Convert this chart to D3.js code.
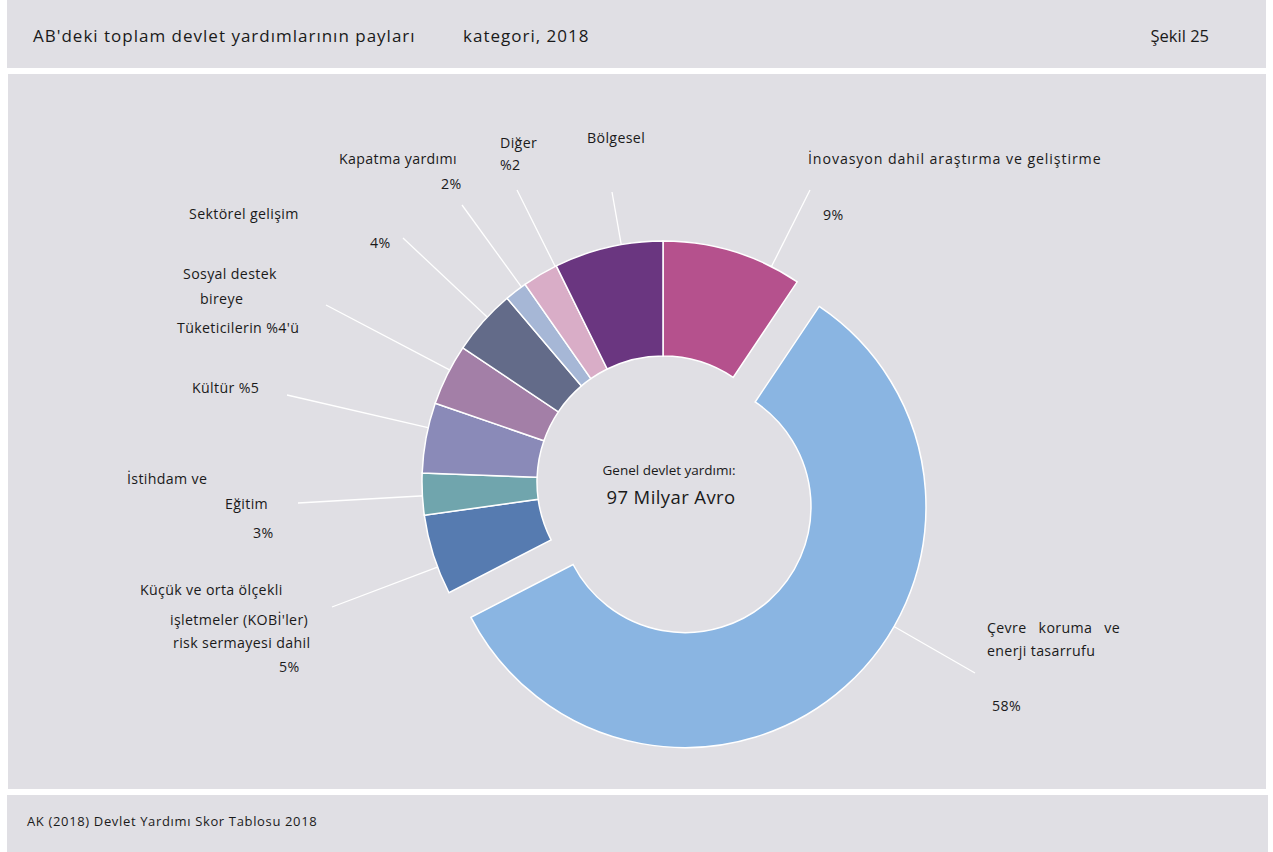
<!DOCTYPE html>
<html>
<head>
<meta charset="utf-8">
<script src="https://cdn.jsdelivr.net/npm/d3@7"></script>
<style>
  html, body { margin: 0; padding: 0; background: #ffffff; }
  svg { display: block; font-family: "Open Sans", Lato, sans-serif; }
</style>
</head>
<body>
<svg id="chart" width="1273" height="852"></svg>
<script>
// ---- data ----
const categories = [
  "İnovasyon dahil araştırma ve geliştirme",
  "Çevre koruma ve enerji tasarrufu",
  "Küçük ve orta ölçekli işletmeler (KOBİ'ler) risk sermayesi dahil",
  "İstihdam ve Eğitim",
  "Kültür",
  "Sosyal destek bireye Tüketicilerin",
  "Sektörel gelişim",
  "Kapatma yardımı",
  "Diğer",
  "Bölgesel"
];
const shares = [9.4, 58.0, 5.4, 2.8, 4.7, 4.1, 4.4, 1.5, 2.4, 7.3];
const colors = ["#b5518d", "#8ab5e2", "#567bb0", "#70a5ad", "#8a8ab8", "#a37fa7", "#636b89", "#a6b7d6", "#d9adc7", "#6a3680"];
// label text lines per category (as shown in the figure)
const labelLines = [
  ["İnovasyon dahil araştırma ve geliştirme", "", "9%"],
  ["Çevre   koruma   ve", "enerji tasarrufu", "", "58%"],
  ["Küçük ve orta ölçekli", "işletmeler (KOBİ'ler)", "risk sermayesi dahil", "5%"],
  ["İstihdam ve", "Eğitim", "3%"],
  ["Kültür %5"],
  ["Sosyal destek", "bireye", "Tüketicilerin %4'ü"],
  ["Sektörel gelişim", "", "4%"],
  ["Kapatma yardımı", "2%"],
  ["Diğer", "%2"],
  ["Bölgesel"]
];
const titleText = "AB'deki toplam devlet yardımlarının payları";
const subtitleText = "kategori, 2018";
const figureText = "Şekil 25";
const sourceText = "AK (2018) Devlet Yardımı Skor Tablosu 2018";
const centerLines = ["Genel devlet yardımı:", "97 Milyar Avro"];

// ---- layout (annotation placement) ----
const cx = 663, cy = 482, R = 241, r0 = 126, explode = 33;
const explodedIndex = 1;
// leader line end points and label anchors
const leaderEnds = [[810,190],[975,673],[332,607],[298,503],[287,395],[326,305],[403,238],[462,205],[517,190],[612,192]];
const labelPos = [
  {ys:[159,187,215], xs:[808,808,823], ls:[0.9,0.35,0.35]},
  {ys:[628,651,678,706], xs:[987,987,987,992]},
  {ys:[590,620,643,667], xs:[140,170,173,279]},
  {ys:[479,504,533], xs:[127,225,253]},
  {ys:[388], xs:[192]},
  {ys:[274,299,328], xs:[183,200,177]},
  {ys:[214,228,243], xs:[189,189,370]},
  {ys:[159,184], xs:[339,441]},
  {ys:[143,165], xs:[500,500]},
  {ys:[138], xs:[587]}
];

const svg = d3.select("#chart");
const bg = "#e0dfe4";
const ink = "#1a1a1a";

// panels
svg.append("rect").attr("x",7).attr("y",0).attr("width",1259).attr("height",68).attr("fill",bg);
svg.append("rect").attr("x",8).attr("y",74).attr("width",1258).attr("height",715).attr("fill",bg);
svg.append("rect").attr("x",7).attr("y",795).attr("width",1261).attr("height",57).attr("fill",bg);

// header texts
svg.append("text").attr("x",33).attr("y",42).attr("font-size",17).attr("letter-spacing",1.0).attr("fill",ink).text(titleText);
svg.append("text").attr("x",463).attr("y",42).attr("font-size",17).attr("letter-spacing",1.0).attr("fill",ink).text(subtitleText);
svg.append("text").attr("x",1209).attr("y",42).attr("font-size",16.5).attr("text-anchor","end").attr("fill",ink).text(figureText);
// footer
svg.append("text").attr("x",27).attr("y",826).attr("font-size",13).attr("letter-spacing",0.65).attr("fill",ink).text(sourceText);

// pie
const pie = d3.pie().sort(null).value(d => d)(shares);
const arc = d3.arc().innerRadius(r0).outerRadius(R);

const g = svg.append("g").attr("transform", `translate(${cx},${cy})`);

function offsetOf(i) {
  if (i !== explodedIndex) return [0,0];
  const m = (pie[i].startAngle + pie[i].endAngle) / 2;
  return [Math.sin(m) * explode, -Math.cos(m) * explode];
}

// leader lines (drawn under slices)
pie.forEach((p, i) => {
  const [ox, oy] = offsetOf(i);
  const ex = leaderEnds[i][0] - cx, ey = leaderEnds[i][1] - cy;
  const dx = ex - ox, dy = ey - oy;
  const len = Math.hypot(dx, dy);
  const sx = ox + dx / len * (R - 2), sy = oy + dy / len * (R - 2);
  g.append("line")
    .attr("x1", sx).attr("y1", sy).attr("x2", ex).attr("y2", ey)
    .attr("stroke", "#ffffff").attr("stroke-width", 1.3);
});

// slices
g.selectAll("path.slice").data(pie).enter().append("path")
  .attr("class","slice")
  .attr("d", arc)
  .attr("transform", (d,i) => { const o = offsetOf(i); return `translate(${o[0]},${o[1]})`; })
  .attr("fill", (d,i) => colors[i])
  .attr("stroke", "#ffffff")
  .attr("stroke-width", 1.5);

// labels
labelLines.forEach((lines, i) => {
  const lp = labelPos[i];
  lines.forEach((t, k) => {
    if (!t) return;
    svg.append("text")
      .attr("x", lp.xs[k])
      .attr("y", lp.ys[k] + 5)
      .attr("font-size", 14.2)
      .attr("letter-spacing", lp.ls ? lp.ls[k] : 0.35)
      .attr("fill", ink)
      .style("white-space", "pre")
      .text(t);
  });
});

// center text
svg.append("text").attr("x",669).attr("y",475).attr("text-anchor","middle").attr("font-size",13.5).attr("fill",ink).text(centerLines[0]);
svg.append("text").attr("x",671).attr("y",504).attr("text-anchor","middle").attr("font-size",18.5).attr("letter-spacing",0.4).attr("fill",ink).text(centerLines[1]);
</script>
</body>
</html>
